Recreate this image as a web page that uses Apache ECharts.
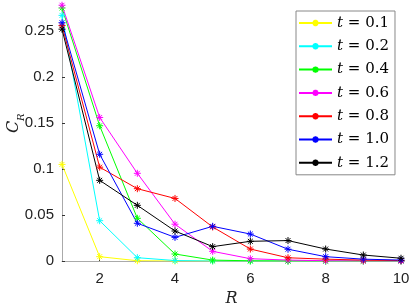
<!DOCTYPE html>
<html><head><meta charset="utf-8">
<script src="https://cdn.jsdelivr.net/npm/echarts@6/dist/echarts.min.js"></script>
<style>html,body{margin:0;padding:0;background:#fff}#c{width:411px;height:306px}</style>
</head><body><div id="c"></div>
<script>
const R = [1,2,3,4,5,6,7,8,9,10];
const xTicks = [2,4,6,8,10];
const yTicks = [0,0.05,0.1,0.15,0.2,0.25];
const names = ['0.1','0.2','0.4','0.6','0.8','1.0','1.2'];
const colors = ['#ffff00','#00ffff','#00ff00','#ff00ff','#ff0000','#0000ff','#000000'];
const t01 = [0.105,0.0047,0.0003,0,0,0,0,0,0,0];
const t02 = [0.267,0.0438,0.0036,0.0005,0,0,0,0,0,0];
const t04 = [0.275,0.147,0.0464,0.0076,0.001,0.0002,0,0,0,0];
const t06 = [0.278,0.156,0.0953,0.040,0.0105,0.0025,0.001,0.0003,0.0001,0];
const t08 = [0.256,0.102,0.0786,0.068,0.037,0.013,0.0035,0.002,0.001,0.0005];
const t10 = [0.259,0.116,0.041,0.0257,0.0377,0.0293,0.0128,0.0047,0.002,0.001];
const t12 = [0.252,0.0877,0.0605,0.0326,0.0156,0.0214,0.0222,0.013,0.0065,0.003];
const allData = [t01,t02,t04,t06,t08,t10,t12];

const star = 'path://M0,-10L0,10M-10,0L10,0M-7,-7L7,7M-7,7L7,-7';
const chart = echarts.init(document.getElementById('c'), null, {renderer:'canvas'});
const series = allData.map((d,i)=>({
  name: 't = ' + names[i],
  type: 'line',
  data: d.map((v,j)=>[R[j], v]),
  symbol: star,
  symbolSize: 7,
  showSymbol: true,
  lineStyle: {color: colors[i], width: 1},
  itemStyle: {color: colors[i], borderColor: colors[i], borderWidth: 1},
  emphasis: {disabled: true},
  animation: false
}));
chart.setOption({
  animation: false,
  grid: {left: 62, right: 10, top: 3.4, bottom: 45, containLabel: false, outerBoundsMode: 'none'},
  legend: {
    orient: 'vertical', left: 296, top: 11,
    backgroundColor: '#fff', borderColor: '#888', borderWidth: 1,
    padding: [4, 6, 4, 2],
    itemWidth: 33, itemHeight: 8, itemGap: 7.3,
    textStyle: {fontFamily: 'DejaVu Serif', fontSize: 15, lineHeight: 16, color: '#000',
      rich: {i: {fontFamily: 'DejaVu Serif', fontStyle: 'italic', fontSize: 15}}},
    formatter: n => '{i|t} = ' + n.split('= ')[1],
    data: series.map(s=>s.name)
  },
  xAxis: {
    type: 'value', min: 1, max: 10,
    axisLine: {show: true, onZero: false, lineStyle: {color: '#aaa'}},
    axisTick: {show: true, inside: true, length: 3, lineStyle: {color: '#333'}, customValues: xTicks},
    axisLabel: {fontFamily: 'Liberation Sans', fontSize: 15, color: '#222', margin: 10, customValues: xTicks},
    splitLine: {show: false},
    name: 'R', nameLocation: 'middle', nameGap: 30,
    nameTextStyle: {fontFamily: 'DejaVu Serif', fontStyle: 'italic', fontSize: 16, color: '#222'}
  },
  yAxis: {
    type: 'value', min: 0, max: 0.28,
    axisLine: {show: true, lineStyle: {color: '#aaa'}},
    axisTick: {show: true, inside: true, length: 3, lineStyle: {color: '#333'}, customValues: yTicks},
    axisLabel: {fontFamily: 'Liberation Sans', fontSize: 15, color: '#222', margin: 8, customValues: yTicks,
      formatter: v => String(Math.round(v*100)/100)},
    splitLine: {show: false}
  },
  graphic: [{
    type: 'group', x: 22, y: 133, rotation: Math.PI/2,
    children: [
      {type: 'text', x: 0, y: 0, style: {text: 'C', font: 'italic 16px "DejaVu Serif"', fill: '#222', textVerticalAlign: 'bottom'}},
      {type: 'text', x: 12, y: 4, style: {text: 'R', font: 'italic 10px "DejaVu Serif"', fill: '#222', textVerticalAlign: 'bottom'}}
    ]
  }],
  series: series
});
</script></body></html>
